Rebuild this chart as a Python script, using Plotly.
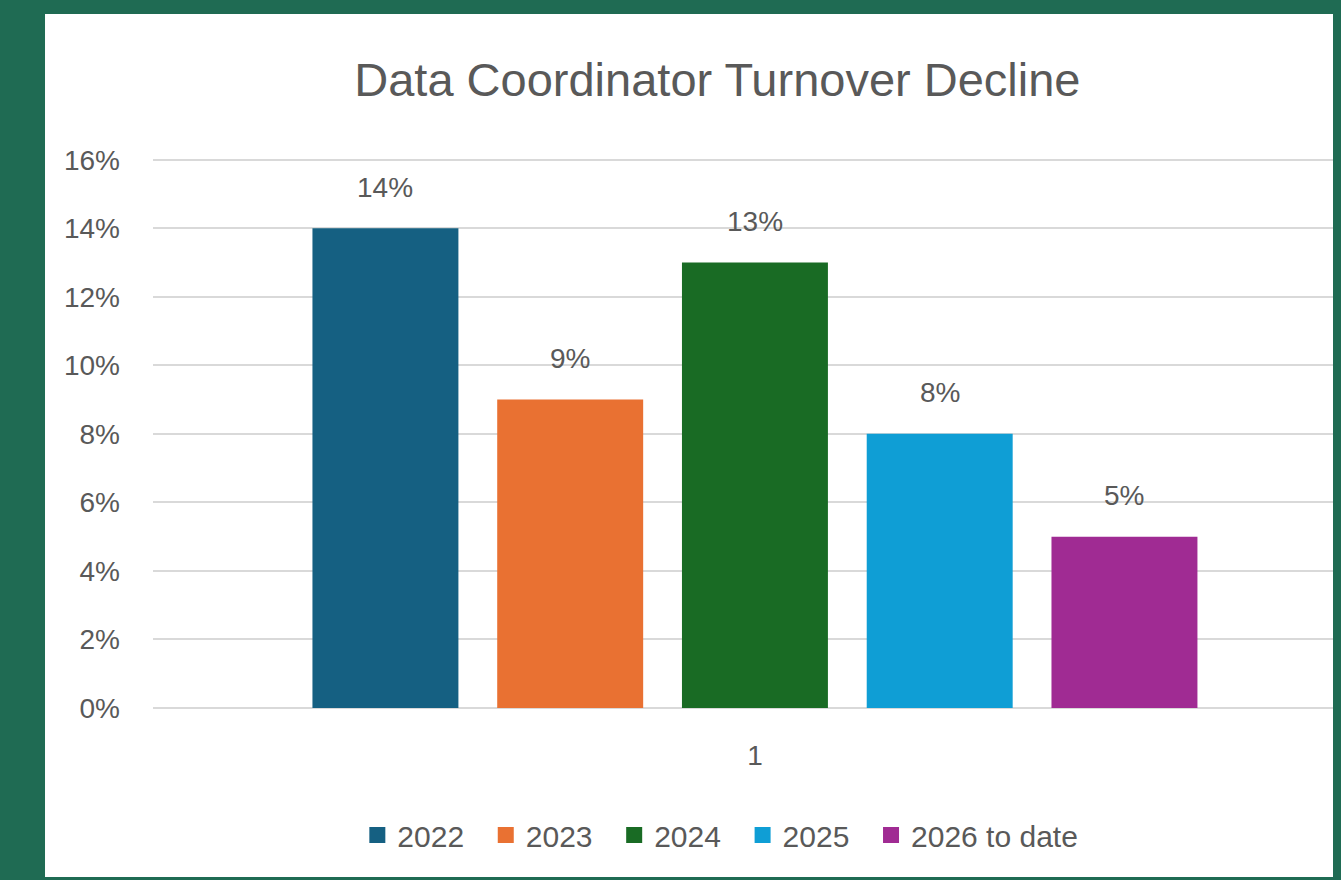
import plotly.graph_objects as go

# series (one category "1", five yearly series)
years = ["2022", "2023", "2024", "2025", "2026 to date"]
turnover = [14, 9, 13, 8, 5]
colors = ["#156082", "#E97132", "#196B24", "#0F9ED5", "#A02B93"]
category_label = ["1"]
y_ticks = [0, 2, 4, 6, 8, 10, 12, 14, 16]
y_tick_text = [f"{v}%" for v in y_ticks]

FONT = "Liberation Sans, Arial, sans-serif"
GREY = "#595959"
GRID = "#d9d9d9"
SHEET = "#1f6b53"

fig = go.Figure()
for i, (year, value, color) in enumerate(zip(years, turnover, colors)):
    fig.add_trace(go.Bar(
        x=[year], y=[value], name=year, showlegend=False,
        marker=dict(color=color, line=dict(width=0)),
        hoverinfo="skip",
    ))
    # legend entry with a bigger square swatch, like Excel
    pad = "" if i == len(years) - 1 else "&nbsp;&nbsp;"
    fig.add_trace(go.Scatter(
        x=[None], y=[None], mode="markers", name=year + pad,
        marker=dict(symbol="square", size=17, color=color),
    ))
    # data label sits a fixed gap above the bar
    fig.add_annotation(
        x=i, y=value, text=f"{value}%", showarrow=False,
        yshift=41, font=dict(size=28, color=GREY, family=FONT),
    )

# white chart area on the green sheet background
fig.add_shape(
    type="rect", xref="paper", yref="paper", layer="below",
    x0=-0.0909, x1=1.05, y0=-0.3073, y1=1.2618,
    fillcolor="white", line=dict(width=0),
)

fig.update_layout(
    width=1341, height=880,
    paper_bgcolor=SHEET, plot_bgcolor="white",
    margin=dict(l=145, r=8, t=150, b=180, autoexpand=False),
    font=dict(family=FONT, color=GREY, size=28),
    title=dict(
        text="Data Coordinator Turnover Decline",
        x=0.529, xanchor="center", y=1 - 72 / 880, yanchor="middle",
        font=dict(size=47, color=GREY, family=FONT),
    ),
    bargap=0.21,
    showlegend=True,
    legend=dict(
        orientation="h", x=0.172, xanchor="left", y=-0.2309, yanchor="middle",
        font=dict(size=30, color=GREY), bgcolor="rgba(0,0,0,0)",
    ),
    xaxis=dict(
        type="category", categoryorder="array", categoryarray=years,
        range=[-1.258, 5.172],
        tickmode="array", tickvals=[2], ticktext=category_label,
        showgrid=False, showline=False, zeroline=False, ticks="",
        ticklabelstandoff=28, fixedrange=True,
    ),
    yaxis=dict(
        range=[0, 16.05], tickmode="array", tickvals=y_ticks, ticktext=y_tick_text,
        showgrid=True, gridcolor=GRID, gridwidth=2,
        zeroline=True, zerolinecolor=GRID, zerolinewidth=2,
        showline=False, ticks="", ticklabelstandoff=32, fixedrange=True,
    ),
)

# page margin around the plot div shows the sheet colour too
fig.write_html("out.html", post_script=f"document.body.style.background='{SHEET}';")
